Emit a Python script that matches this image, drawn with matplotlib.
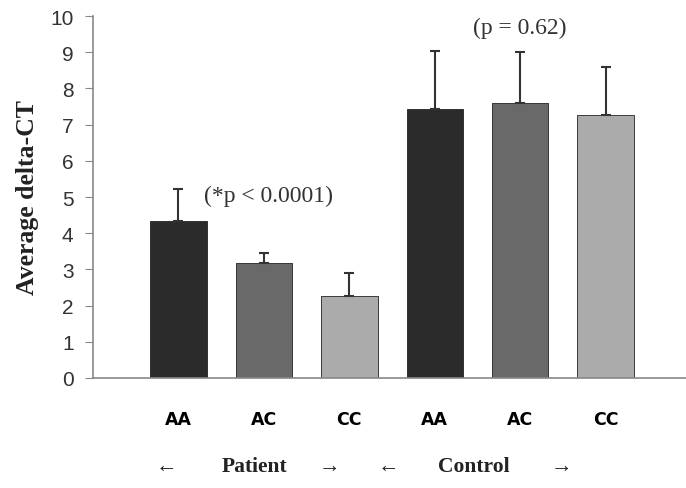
import matplotlib
matplotlib.use("Agg")
import matplotlib.pyplot as plt
from matplotlib.transforms import blended_transform_factory

categories = ["AA", "AC", "CC", "AA", "AC", "CC"]
means = [4.35, 3.17, 2.27, 7.44, 7.61, 7.27]
errors = [0.87, 0.27, 0.63, 1.59, 1.39, 1.31]
colors = ["#2b2b2b", "#696969", "#ababab", "#2b2b2b", "#696969", "#ababab"]
yticks = list(range(0, 11))

fig = plt.figure(figsize=(6.86, 4.89), dpi=100)
ax = fig.add_axes([0.1356, 0.225, 0.8644, 0.74])

x = list(range(len(categories)))
ax.bar(x, means, width=0.66, color=colors, edgecolor="#222222", linewidth=0.6, zorder=2)
ax.errorbar(x, means, yerr=[[0]*len(errors), errors], fmt="none", ecolor="#333333",
            elinewidth=1.5, capsize=3.5, capthick=1.5, zorder=3)

ax.set_xlim(-1.0, 5.94)
ax.set_ylim(0, 10)
ax.set_yticks(yticks)
ax.set_yticklabels([str(t) for t in yticks], fontsize=15, color="#333333", family="Liberation Sans")
ax.set_xticks(x)
ax.set_xticklabels(categories, fontsize=12.5, fontweight="bold", family="DejaVu Sans")
ax.tick_params(axis="x", length=0, pad=23)
ax.tick_params(axis="y", direction="out", length=6, color="#888888", pad=8)

for s in ["top", "right"]:
    ax.spines[s].set_visible(False)
for s in ["left", "bottom"]:
    ax.spines[s].set_color("#888888")
    ax.spines[s].set_linewidth(1.2)

ax.set_ylabel("Average delta-CT", fontsize=18.5, fontweight="bold", family="Liberation Serif",
              labelpad=8, color="#222222")

ax.text(1.05, 5.05, "(*p < 0.0001)", fontsize=17, family="Liberation Serif", ha="center", va="center", color="#333333")
ax.text(3.99, 9.7, "(p = 0.62)", fontsize=17, family="Liberation Serif", ha="center", va="center", color="#333333")

tr = blended_transform_factory(ax.transData, fig.transFigure)
bottom_labels = [(-0.14, "\u2190"), (0.89, "Patient"), (1.77, "\u2192"),
                 (2.46, "\u2190"), (3.46, "Control"), (4.48, "\u2192")]
for bx, t in bottom_labels:
    ax.text(bx, 1 - 467 / 489, t, transform=tr, fontsize=15.5, fontweight="bold",
            family="Liberation Serif", ha="center", va="center", clip_on=False, color="#222222")

fig.savefig("out.png", dpi=100)
